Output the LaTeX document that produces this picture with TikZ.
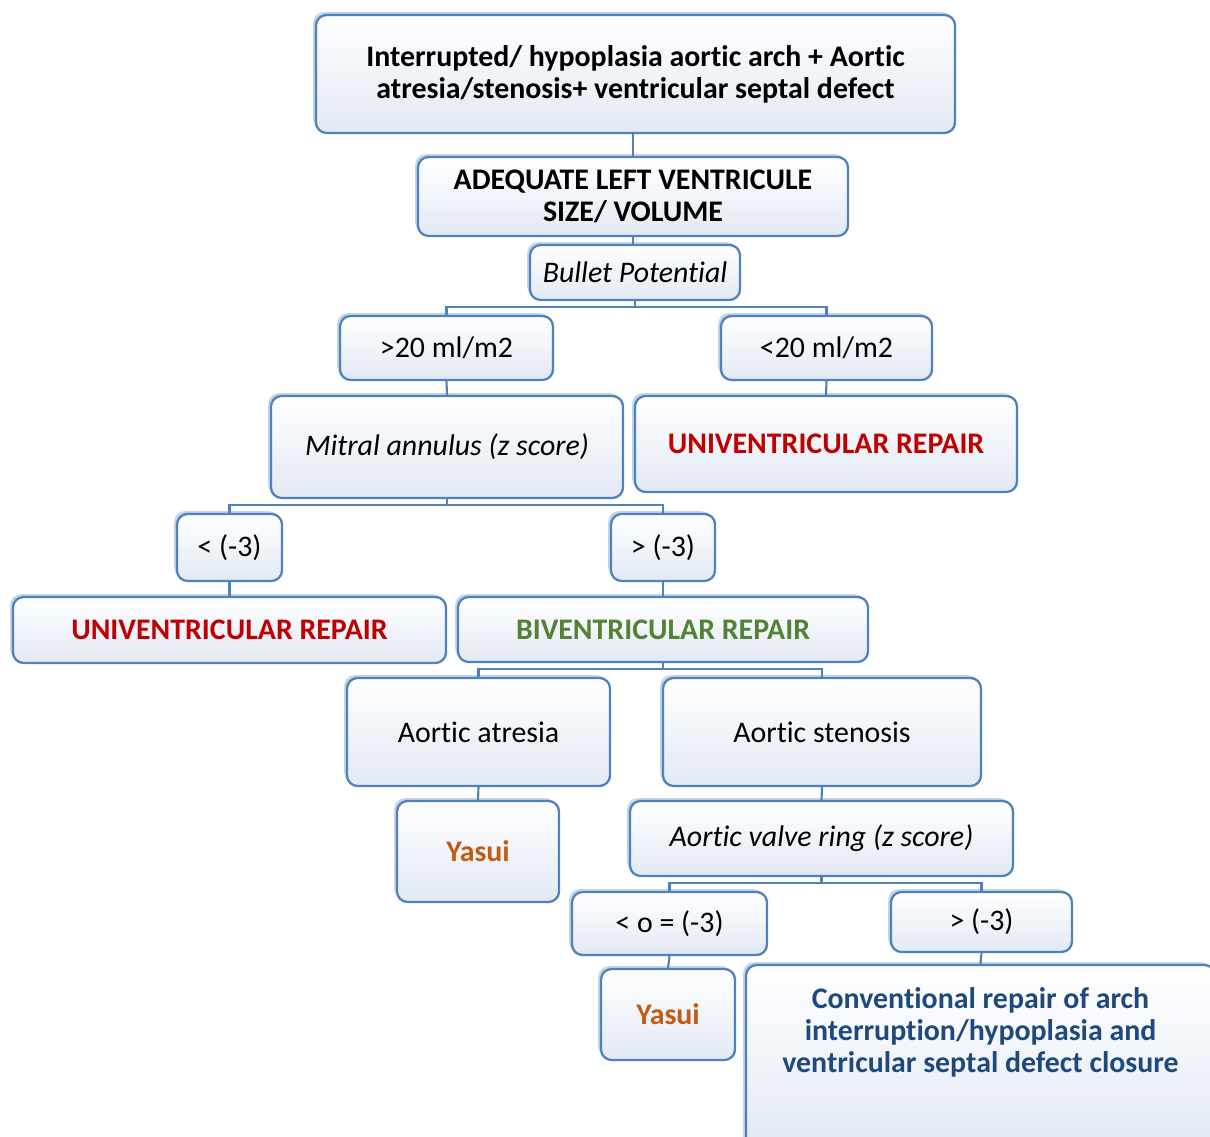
\documentclass[tikz,border=0pt]{standalone}
\usepackage{fontspec}
\setmainfont{Carlito}[Ligatures=NoCommon]
\usepackage{xcolor}
\usepackage{tikz}
\usetikzlibrary{shapes,positioning,calc,shadows}
\definecolor{boxline}{RGB}{79, 129, 189}
\definecolor{boxfill}{RGB}{226, 233, 244}
\definecolor{repairred}{RGB}{192, 0, 0}
\definecolor{repairgreen}{RGB}{84, 130, 53}
\definecolor{yasuiorange}{RGB}{197, 90, 17}
\definecolor{convblue}{RGB}{31, 73, 125}

\begin{document}
\begin{tikzpicture}[
    box/.style={rectangle, draw=boxline, line width=1.3pt, rounded corners=6pt, inner sep=0pt, align=center,
        top color=white, bottom color=boxfill, font=\fontsize{17}{18.2}\selectfont,
        drop shadow={shadow xshift=-1.6pt, shadow yshift=1.6pt, fill=boxline!60, opacity=0.55}},
    title/.style={box, font=\fontsize{17}{18.2}\selectfont\bfseries},
    question/.style={box, font=\fontsize{17}{18.2}\selectfont\itshape},
    univ/.style={box, font=\fontsize{17}{18.2}\selectfont\bfseries, text=repairred},
    biv/.style={box, font=\fontsize{17}{18.2}\selectfont\bfseries, text=repairgreen},
    yasui/.style={box, font=\fontsize{17}{18.2}\selectfont\bfseries, text=yasuiorange},
    conv/.style={box, font=\fontsize{17}{18.2}\selectfont\bfseries, text=convblue},
    link/.style={draw=boxline, line width=1.2pt}
]
\clip (0,0) rectangle (24.2,22.72);

% Header
\node[title, minimum width=12.78cm, minimum height=2.36cm] (top) at (12.71,21.24) {Interrupted/ hypoplasia aortic arch + Aortic\\atresia/stenosis+ ventricular septal defect};
\node[title, minimum width=8.6cm, minimum height=1.58cm] (adeq) at (12.66,18.79) {ADEQUATE LEFT VENTRICULE\\SIZE/ VOLUME};
\node[question, minimum width=4.2cm, minimum height=1.1cm] (bullet) at (12.70,17.27) {Bullet Potential};

% Left ventricle volume
\node[box, minimum width=4.26cm, minimum height=1.28cm] (gt20) at (8.93,15.76) {>20 ml/m2};
\node[box, minimum width=4.22cm, minimum height=1.28cm] (lt20) at (16.53,15.76) {<20 ml/m2};
\node[question, minimum width=7.04cm, minimum height=2.04cm] (mitral) at (8.94,13.78) {Mitral annulus (z score)};
\node[univ, minimum width=7.64cm, minimum height=1.92cm] (univR) at (16.52,13.84) {UNIVENTRICULAR REPAIR};

% Mitral annulus
\node[box, minimum width=2.1cm, minimum height=1.34cm] (ltm3) at (4.59,11.77) {< (-3)};
\node[box, minimum width=2.08cm, minimum height=1.34cm] (gtm3) at (13.26,11.77) {> (-3)};
\node[univ, minimum width=8.66cm, minimum height=1.32cm] (univL) at (4.59,10.12) {UNIVENTRICULAR REPAIR};
\node[biv, minimum width=8.2cm, minimum height=1.3cm] (biv) at (13.26,10.13) {BIVENTRICULAR REPAIR};

% Biventricular repair
\node[box, minimum width=5.26cm, minimum height=2.16cm] (atresia) at (9.57,8.08) {Aortic atresia};
\node[box, minimum width=6.36cm, minimum height=2.16cm] (stenosis) at (16.44,8.08) {Aortic stenosis};
\node[yasui, minimum width=3.24cm, minimum height=2.02cm] (yasuiA) at (9.56,5.69) {Yasui};
\node[question, minimum width=7.66cm, minimum height=1.5cm] (valve) at (16.43,5.95) {Aortic valve ring (z score)};

% Aortic valve ring
\node[box, minimum width=3.9cm, minimum height=1.26cm] (leq) at (13.39,4.25) {< o = (-3)};
\node[box, minimum width=3.62cm, minimum height=1.2cm] (gtv) at (19.63,4.28) {> (-3)};
\node[yasui, minimum width=2.68cm, minimum height=1.82cm] (yasuiB) at (13.36,2.43) {Yasui};
\node[conv, minimum width=9.38cm, minimum height=3.7cm] (conv) at (19.61,1.57) {Conventional repair of arch\\interruption/hypoplasia and\\ventricular septal defect closure\\[0.46cm]};

% Connectors
\draw[link] (adeq.north) -- (adeq.north |- top.south);
\draw[link] (adeq.south) -- (adeq.south |- bullet.north);
\draw[link] (bullet.south) -- ++(0,-0.12) -| (gt20.north);
\draw[link] (bullet.south) -- ++(0,-0.12) -| (lt20.north);
\draw[link] (gt20.south) -- (mitral.north);
\draw[link] (lt20.south) -- (univR.north);
\draw[link] (mitral.south) -- ++(0,-0.12) -| (ltm3.north);
\draw[link] (mitral.south) -- ++(0,-0.12) -| (gtm3.north);
\draw[link] (ltm3.south) -- (univL.north);
\draw[link] (gtm3.south) -- (biv.north);
\draw[link] (biv.south) -- ++(0,-0.12) -| (atresia.north);
\draw[link] (biv.south) -- ++(0,-0.12) -| (stenosis.north);
\draw[link] (atresia.south) -- (yasuiA.north);
\draw[link] (stenosis.south) -- (valve.north);
\draw[link] (valve.south) -- ++(0,-0.12) -| (leq.north);
\draw[link] (valve.south) -- ++(0,-0.12) -| (gtv.north);
\draw[link] (leq.south) -- (yasuiB.north);
\draw[link] (gtv.south) -- (conv.north);

\end{tikzpicture}
\end{document}
